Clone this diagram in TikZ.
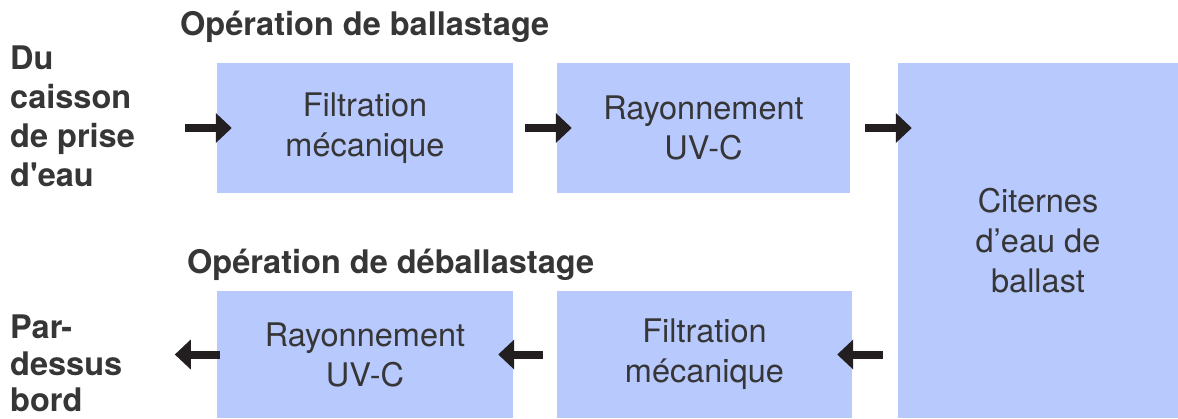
\documentclass[tikz,border=0pt]{standalone}
\usepackage{fontspec}
\setmainfont{TeX Gyre Heros}
\usepackage{xcolor}
\usepackage{tikz}
\usetikzlibrary{arrows.meta, positioning, calc}
\definecolor{stageblue}{HTML}{B8C9FE}
\definecolor{labelgray}{HTML}{363636}
\definecolor{flowblack}{HTML}{231F20}

\begin{document}
\begin{tikzpicture}[x=1pt, y=-1pt,
    stage/.style={fill=stageblue, draw=none, align=center, text=labelgray,
        font=\fontsize{32.5}{40}\selectfont, inner sep=0pt},
    side/.style={align=left, text=labelgray, inner sep=0pt, anchor=south west,
        font=\fontsize{32.5}{39}\selectfont\bfseries},
    title/.style={text=labelgray, inner sep=0pt, anchor=base west,
        font=\fontsize{32.5}{39}\selectfont\bfseries},
    flow/.style={-{Triangle[length=16pt, width=29pt]}, line width=8pt, flowblack}]
    \useasboundingbox (0, 0) rectangle (1178, 418);

    % ── TOP: BALLASTAGE ───────────────────────────────────────────────
    \node[title] (tBal) at (180, 35) {Opération de ballastage};
    \node[side] (src) at (10, 187) {Du\\caisson\\de prise\\d\textquotesingle eau};
    \node[stage, minimum width=296pt, minimum height=130pt] (fA) at (365, 128) {Filtration\\mécanique};
    \node[stage, minimum width=293pt, minimum height=130pt] (fB) at (703.5, 128) {Rayonnement\\UV-C};

    % ── TANKS ─────────────────────────────────────────────────────────
    \node[stage, minimum width=280pt, minimum height=355pt] (fC) at (1038, 240.5) {Citernes\\d’eau de\\ballast};

    % ── BOTTOM: DEBALLASTAGE ──────────────────────────────────────────
    \node[title] (tDeb) at (187, 273) {Opération de déballastage};
    \node[side, font=\fontsize{32.5}{36.5}\selectfont\bfseries] (dst) at (10, 412) {Par-\\dessus\\bord};
    \node[stage, minimum width=296pt, minimum height=127pt] (fD) at (365, 354.5) {Rayonnement\\UV-C};
    \node[stage, minimum width=295pt, minimum height=127pt] (fE) at (704.5, 354.5) {Filtration\\mécanique};

    % ── FLOW ARROWS ───────────────────────────────────────────────────
    \draw[flow] ([xshift=-32pt]fA.west) -- ([xshift=15pt]fA.west);
    \draw[flow] ([xshift=12pt]fA.east) -- ([xshift=15pt]fB.west);
    \draw[flow] ([xshift=15pt]fB.east) -- ([xshift=14pt]fC.west |- fB.east);
    \draw[flow] ([xshift=-15pt]fC.west |- fE.east) -- ([xshift=-15pt]fE.east);
    \draw[flow] ([xshift=-14pt]fE.west) -- ([xshift=-15pt]fD.east);
    \draw[flow] ([xshift=3pt]fD.west) -- ([xshift=-42pt]fD.west);
\end{tikzpicture}
\end{document}
